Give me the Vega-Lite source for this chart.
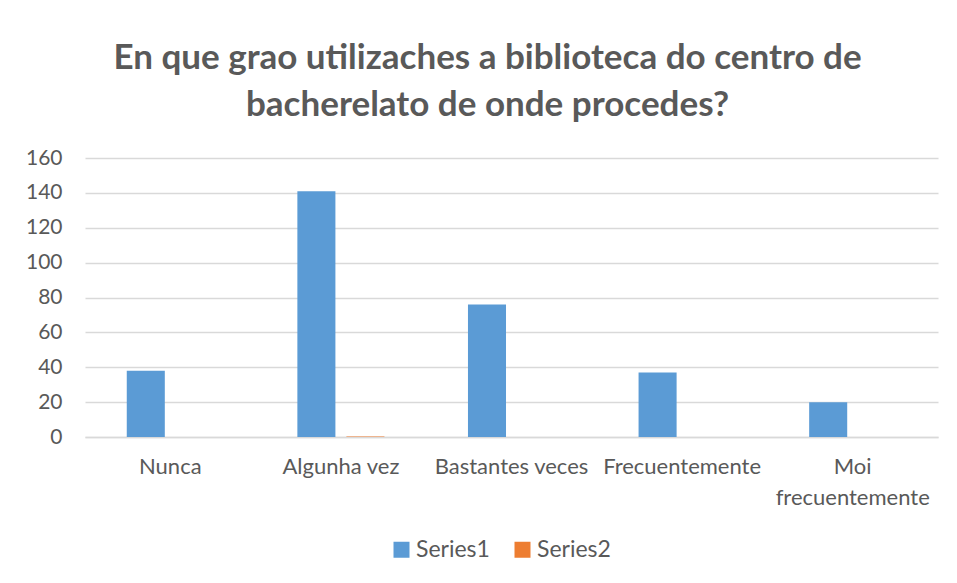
{
  "$schema": "https://vega.github.io/schema/vega-lite/v6.json",
  "autosize": {"type": "none"},
  "width": 853,
  "height": 279,
  "padding": {"left": 85, "top": 158, "right": 19, "bottom": 146},
  "background": "white",
  "title": {
    "text": ["En que grao utilizaches a biblioteca do centro de", "bacherelato de onde procedes?"],
    "font": "Lato",
    "fontSize": 35,
    "fontWeight": "bold",
    "color": "#595959",
    "anchor": "middle",
    "dx": -24,
    "offset": 24,
    "lineHeight": 47
  },
  "data": {
    "values": [
      {"cat": "Nunca", "series": "Series1", "value": 38},
      {"cat": "Nunca", "series": "Series2", "value": 0},
      {"cat": "Algunha vez", "series": "Series1", "value": 141},
      {"cat": "Algunha vez", "series": "Series2", "value": 0.3},
      {"cat": "Bastantes veces", "series": "Series1", "value": 76},
      {"cat": "Bastantes veces", "series": "Series2", "value": 0},
      {"cat": "Frecuentemente", "series": "Series1", "value": 37},
      {"cat": "Frecuentemente", "series": "Series2", "value": 0},
      {"cat": "Moi frecuentemente", "series": "Series1", "value": 20},
      {"cat": "Moi frecuentemente", "series": "Series2", "value": 0}
    ]
  },
  "mark": {"type": "bar"},
  "encoding": {
    "x": {
      "field": "cat",
      "type": "nominal",
      "sort": null,
      "scale": {"paddingInner": 0, "paddingOuter": 0},
      "axis": {
        "title": null,
        "labelAngle": 0,
        "ticks": false,
        "domainColor": "#d9d9d9",
        "domainWidth": 1.5,
        "labelPadding": 19,
        "labelFontSize": 22,
        "labelExpr": "datum.label == 'Moi frecuentemente' ? ['Moi', 'frecuentemente'] : datum.label",
        "labelLineHeight": 31
      }
    },
    "xOffset": {
      "field": "series",
      "type": "nominal",
      "scale": {"paddingInner": 0.224, "paddingOuter": 0.852}
    },
    "y": {
      "field": "value",
      "type": "quantitative",
      "scale": {"domain": [0, 160]},
      "axis": {
        "title": null,
        "values": [0, 20, 40, 60, 80, 100, 120, 140, 160],
        "domain": false,
        "ticks": false,
        "labelPadding": 23,
        "gridColor": "#d9d9d9",
        "gridWidth": 1.5
      }
    },
    "color": {
      "field": "series",
      "type": "nominal",
      "scale": {"domain": ["Series1", "Series2"], "range": ["#5B9BD5", "#ED7D31"]},
      "legend": {
        "title": null,
        "orient": "none",
        "direction": "horizontal",
        "legendX": 305,
        "legendY": 380,
        "symbolType": "square",
        "symbolSize": 256,
        "symbolStrokeWidth": 0,
        "columnPadding": 21,
        "labelOffset": 3,
        "labelFontSize": 23
      }
    }
  },
  "config": {
    "view": {"stroke": null},
    "axis": {
      "labelFont": "Lato",
      "labelFontSize": 21,
      "labelColor": "#595959"
    },
    "legend": {
      "labelFont": "Lato",
      "labelFontSize": 23,
      "labelColor": "#595959"
    }
  }
}
